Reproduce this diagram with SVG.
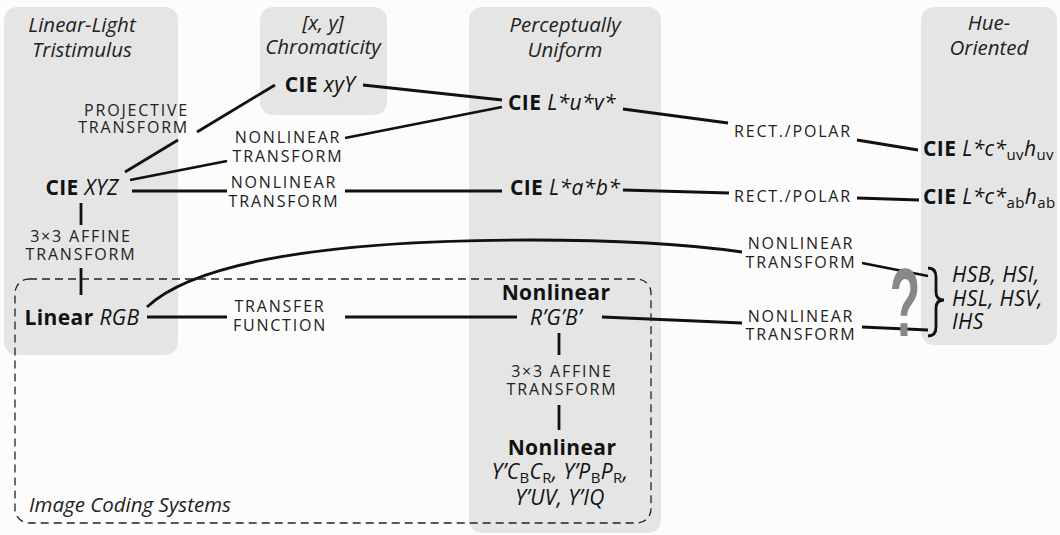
<svg xmlns="http://www.w3.org/2000/svg" width="1060" height="535" viewBox="0 0 1060 535">
<style>
.bg{fill:#e5e5e5}
.hd{font-family:"Open Sans",sans-serif;font-style:italic;font-size:20.5px;fill:#222;text-anchor:middle}
.nd{font-family:"Open Sans",sans-serif;font-size:21px;letter-spacing:0.4px;fill:#111;text-anchor:middle}
.b{font-weight:bold}
.i{font-style:italic}
.sub{font-style:normal;font-size:15px}
.lb{font-family:"Open Sans",sans-serif;font-size:16px;letter-spacing:1.8px;fill:#222;text-anchor:middle}
.en{text-anchor:end}
.st{text-anchor:start}
.ln{fill:none;stroke:#111;stroke-width:2.8;stroke-linecap:butt}
.dash{fill:none;stroke:#222;stroke-width:1.3;stroke-dasharray:8 5}
</style>
<rect width="1060" height="535" fill="#fcfcfc"/>
<g id="groups">
<rect class="bg" x="4" y="7" width="174" height="348" rx="13"/>
<rect class="bg" x="260" y="7" width="127" height="108" rx="13"/>
<rect class="bg" x="469" y="7" width="192" height="526" rx="13"/>
<rect class="bg" x="921" y="7" width="136" height="338" rx="13"/>
<text class="hd" x="82" y="32">Linear-Light</text>
<text class="hd" x="82" y="57">Tristimulus</text>
<text class="hd" x="323" y="30" font-style="normal">[<tspan font-style="italic">x</tspan>, <tspan font-style="italic">y</tspan>]</text>
<text class="hd" x="323" y="54">Chromaticity</text>
<text class="hd" x="565" y="32">Perceptually</text>
<text class="hd" x="565" y="57">Uniform</text>
<text class="hd" x="989" y="30">Hue-</text>
<text class="hd" x="989" y="55">Oriented</text>
</g>
<g id="connectors">
<line class="ln" x1="125" y1="172" x2="178" y2="140"/>
<line class="ln" x1="197" y1="132" x2="275" y2="85"/>
<line class="ln" x1="130" y1="180" x2="227" y2="161"/>
<line class="ln" x1="345" y1="138" x2="502" y2="107"/>
<line class="ln" x1="363" y1="85" x2="502" y2="100"/>
<line class="ln" x1="132" y1="191" x2="227" y2="191"/>
<line class="ln" x1="345" y1="191" x2="502" y2="191"/>
<line class="ln" x1="623" y1="109" x2="728" y2="123"/>
<line class="ln" x1="857" y1="140" x2="918" y2="150"/>
<line class="ln" x1="623" y1="190" x2="729" y2="193"/>
<line class="ln" x1="857" y1="198" x2="919" y2="200"/>
<line class="ln" x1="81" y1="203" x2="81" y2="225"/>
<line class="ln" x1="81" y1="268" x2="81" y2="295"/>
<line class="ln" x1="147" y1="317" x2="227" y2="317"/>
<line class="ln" x1="345" y1="317" x2="517" y2="317"/>
<line class="ln" x1="602" y1="317" x2="742" y2="323"/>
<line class="ln" x1="862" y1="327" x2="928" y2="330"/>
<path class="ln" d="M147,307 C195,262 330,240 530,240 C640,240 700,246 742,252"/>
<line class="ln" x1="862" y1="263" x2="928" y2="276"/>
<line class="ln" x1="559" y1="333" x2="559" y2="355"/>
<line class="ln" x1="559" y1="405" x2="559" y2="430"/>
<path class="ln" d="M928,268 Q936,268 936,277 L936,292 Q936,300 944,300 Q936,300 936,308 L936,327 Q936,336 928,336" stroke-width="3"/>
</g>
<g id="image-coding">
<rect class="dash" x="15" y="279" width="636" height="244" rx="14"/>
<text class="hd st" x="29" y="512" font-size="19">Image Coding Systems</text>
</g>
<g id="labels">
<text class="lb en" x="189" y="116">PROJECTIVE</text>
<text class="lb en" x="189" y="133">TRANSFORM</text>
<text class="lb" x="288" y="143">NONLINEAR</text>
<text class="lb" x="288" y="162">TRANSFORM</text>
<text class="lb" x="284" y="188">NONLINEAR</text>
<text class="lb" x="284" y="207">TRANSFORM</text>
<text class="lb" x="81" y="242">3×3 AFFINE</text>
<text class="lb" x="81" y="260">TRANSFORM</text>
<text class="lb" x="280" y="312">TRANSFER</text>
<text class="lb" x="280" y="331">FUNCTION</text>
<text class="lb" x="793" y="137">RECT./POLAR</text>
<text class="lb" x="793" y="202">RECT./POLAR</text>
<text class="lb" x="801" y="249">NONLINEAR</text>
<text class="lb" x="801" y="268">TRANSFORM</text>
<text class="lb" x="801" y="322">NONLINEAR</text>
<text class="lb" x="801" y="340">TRANSFORM</text>
<text class="lb" x="562" y="377">3×3 AFFINE</text>
<text class="lb" x="562" y="395">TRANSFORM</text>
</g>
<g id="node-xyz"><text class="nd" x="82" y="195"><tspan class="b">CIE</tspan> <tspan class="i">XYZ</tspan></text></g>
<g id="node-xyY"><text class="nd" x="320" y="92"><tspan class="b">CIE</tspan> <tspan class="i">xyY</tspan></text></g>
<g id="node-luv"><text class="nd" x="562" y="110"><tspan class="b">CIE</tspan> <tspan class="i">L*u*v*</tspan></text></g>
<g id="node-lab"><text class="nd" x="565" y="195"><tspan class="b">CIE</tspan> <tspan class="i">L*a*b*</tspan></text></g>
<g id="node-lchuv"><text class="nd st" x="923" y="156" letter-spacing="0"><tspan class="b">CIE</tspan> <tspan class="i">L*c*</tspan><tspan class="sub" dy="4">uv</tspan><tspan class="i" dy="-4">h</tspan><tspan class="sub" dy="4">uv</tspan></text></g>
<g id="node-lchab"><text class="nd st" x="923" y="204" letter-spacing="0"><tspan class="b">CIE</tspan> <tspan class="i">L*c*</tspan><tspan class="sub" dy="4">ab</tspan><tspan class="i" dy="-4">h</tspan><tspan class="sub" dy="4">ab</tspan></text></g>
<g id="node-linrgb"><text class="nd" x="82" y="325"><tspan class="b">Linear</tspan> <tspan class="i">RGB</tspan></text></g>
<g id="node-rgbprime"><text class="nd b" x="556" y="300">Nonlinear</text><text class="nd i" x="556" y="325">R’G’B’</text></g>
<g id="node-ycc"><text class="nd b" x="562" y="455">Nonlinear</text>
<text class="nd i" x="560" y="479">Y’C<tspan class="sub" dy="4">B</tspan><tspan dy="-4">C</tspan><tspan class="sub" dy="4">R</tspan><tspan dy="-4">, Y’P</tspan><tspan class="sub" dy="4">B</tspan><tspan dy="-4">P</tspan><tspan class="sub" dy="4">R</tspan><tspan dy="-4">,</tspan></text>
<text class="nd i" x="560" y="505">Y’UV, Y’IQ</text></g>
<g id="node-hsx"><text class="nd i st" x="952" y="282">HSB, HSI,</text>
<text class="nd i st" x="952" y="306">HSL, HSV,</text>
<text class="nd i st" x="952" y="329">IHS</text></g>
<g id="question"><text x="0" y="0" transform="translate(905,336) scale(0.52,1)" font-family="Liberation Sans, sans-serif" font-weight="bold" font-size="96" fill="#888" text-anchor="middle">?</text></g>
</svg>
